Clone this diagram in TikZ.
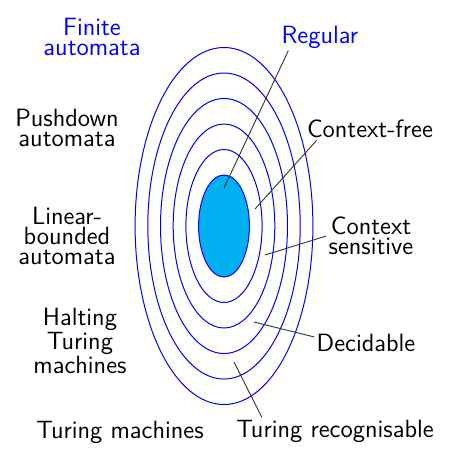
\documentclass[tikz,border=0pt]{standalone}
\usepackage{tikz}
\definecolor{regfill}{RGB}{0,176,240}
\begin{document}
\begin{tikzpicture}[x=0.5pt, y=-0.5pt,
    every node/.style={font=\sffamily\fontsize{12.5}{10}\selectfont, align=center, inner sep=1pt},
    ring/.style={blue, line width=0.5pt},
    pointer/.style={black!80, line width=0.45pt}]
  \useasboundingbox (0,0) rectangle (457,457);
  \def\ax{6.35pt};
  \def\by{12.75pt};
  \coordinate (ctr) at (224,226);
  % nested language classes
  \filldraw[ring, fill=regfill] (ctr) ellipse [x radius=2*\ax, y radius=2*\by];
  \foreach \k in {3,...,7}{
    \draw[ring] (ctr) ellipse [x radius=\k*\ax, y radius=\k*\by];
  }
  % machines
  \node[text=blue] (fin) at (92,37) {Finite\\automata};
  \node (pda) at (67,128) {Pushdown\\automata};
  \node (lba) at (67,236) {Linear-\\bounded\\automata};
  \node (htm) at (80,341) {Halting\\Turing\\machines};
  \node (tm) at (120,432) {Turing machines};
  % languages
  \node[text=blue] (reg) at (320,37) {Regular};
  \node (cf) at (370,129) {Context-free};
  \node (cs) at (371,236) {Context\\sensitive};
  \node (dec) at (366,343) {Decidable};
  \node (trec) at (335,431) {Turing recognisable};
  \coordinate (inreg) at (224,188);
  \coordinate (incf) at (255,209);
  \coordinate (incs) at (265,255);
  \coordinate (indec) at (254,322);
  \coordinate (intrec) at (234,362);
  \draw[pointer] ([xshift=4.5pt]reg.south west) -- (inreg);
  \draw[pointer] ([xshift=6pt]cf.south west) -- (incf);
  \draw[pointer] (cs.west) -- (incs);
  \draw[pointer] ([yshift=3pt]dec.west) -- (indec);
  \draw[pointer] ([xshift=14pt]trec.north west) -- (intrec);
\end{tikzpicture}
\end{document}
